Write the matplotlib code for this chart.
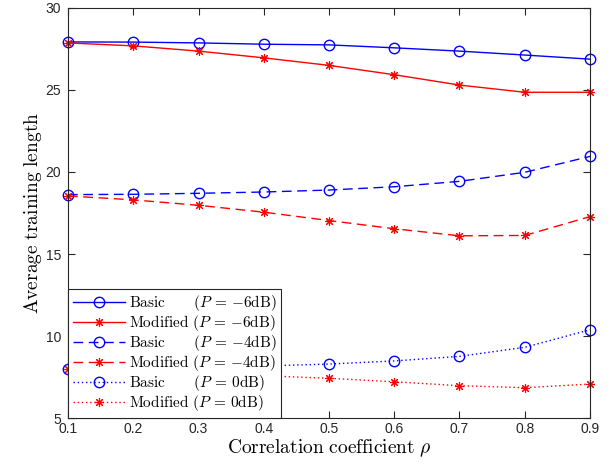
import numpy as np
import matplotlib
matplotlib.use("Agg")
import matplotlib.pyplot as plt

# correlation coefficient values
rho = [0.1, 0.2, 0.3, 0.4, 0.5, 0.6, 0.7, 0.8, 0.9]

# average training length
basic_m6 = [27.93, 27.92, 27.87, 27.79, 27.75, 27.57, 27.37, 27.13, 26.88]
modified_m6 = [27.87, 27.69, 27.37, 26.96, 26.50, 25.93, 25.30, 24.86, 24.86]
basic_m4 = [18.62, 18.64, 18.70, 18.78, 18.90, 19.10, 19.43, 19.98, 20.95]
modified_m4 = [18.54, 18.30, 17.97, 17.55, 17.04, 16.54, 16.11, 16.13, 17.28]
basic_0 = [8.00, 8.02, 8.08, 8.17, 8.29, 8.48, 8.76, 9.31, 10.38]
modified_0 = [8.00, 7.85, 7.72, 7.58, 7.42, 7.21, 6.97, 6.85, 7.07]

labels = [
    r"$\mathrm{Basic}\hspace{2.2}(P\,=\,{-6}\mathrm{dB})$",
    r"$\mathrm{Modified}\hspace{0.4}(P\,=\,{-6}\mathrm{dB})$",
    r"$\mathrm{Basic}\hspace{2.2}(P\,=\,{-4}\mathrm{dB})$",
    r"$\mathrm{Modified}\hspace{0.4}(P\,=\,{-4}\mathrm{dB})$",
    r"$\mathrm{Basic}\hspace{2.2}(P\,=\,0\mathrm{dB})$",
    r"$\mathrm{Modified}\hspace{0.4}(P\,=\,0\mathrm{dB})$",
]

plt.rcParams["mathtext.fontset"] = "cm"
plt.rcParams["font.family"] = ["Liberation Sans", "DejaVu Sans"]

AST = (8, 2, 0)  # matlab-like asterisk
blue, red = "#0000ff", "#ff0000"
dash = (0, (7, 4))
dot = (0, (1, 2))

series = [
    (basic_m6, blue, "o", "-"),
    (modified_m6, red, AST, "-"),
    (basic_m4, blue, "o", dash),
    (modified_m4, red, AST, dash),
    (basic_0, blue, "o", dot),
    (modified_0, red, AST, dot),
]

fig = plt.figure(figsize=(6.1, 4.69), dpi=100)
ax = fig.add_axes([0.1115, 0.1087, 0.8557, 0.8743])

for (vals, col, mk, ls), lab in zip(series, labels):
    small = mk == AST
    ax.plot(rho, vals, color=col, linestyle=ls, linewidth=1.0,
            marker=mk, markersize=6.5 if small else 7.5,
            markerfacecolor="none", markeredgecolor=col,
            markeredgewidth=0.8 if small else 1.0, label=lab,
            clip_on=False)

ax.set_xlim(0.1, 0.9)
ax.set_ylim(5, 30)
ax.set_xticks(rho)
ax.set_xticklabels(["0.1", "0.2", "0.3", "0.4", "0.5", "0.6", "0.7", "0.8", "0.9"])
ax.set_yticks([5, 10, 15, 20, 25, 30])

frame = "#262626"
for sp in ax.spines.values():
    sp.set_color(frame)
    sp.set_linewidth(0.8)
ax.tick_params(direction="in", length=5, width=0.8, colors=frame,
               labelsize=10, top=True, right=True)
ax.tick_params(axis="x", pad=3)
ax.tick_params(axis="y", pad=5)

ax.set_xlabel(r"$\mathrm{Correlation\ coefficient}\ \rho$", fontsize=14,
              labelpad=1)
ax.set_ylabel(r"$\mathrm{Average\ training\ length}$", fontsize=14,
              labelpad=1)

leg = ax.legend(loc="lower left", bbox_to_anchor=(0, 0), borderaxespad=0,
                fontsize=11, handlelength=3.4, handletextpad=0.3,
                labelspacing=0.0, borderpad=0.3, fancybox=False,
                framealpha=1, edgecolor=frame)
leg.get_frame().set_linewidth(0.8)
leg.set_zorder(5)

fig.savefig("out.png", dpi=100)
